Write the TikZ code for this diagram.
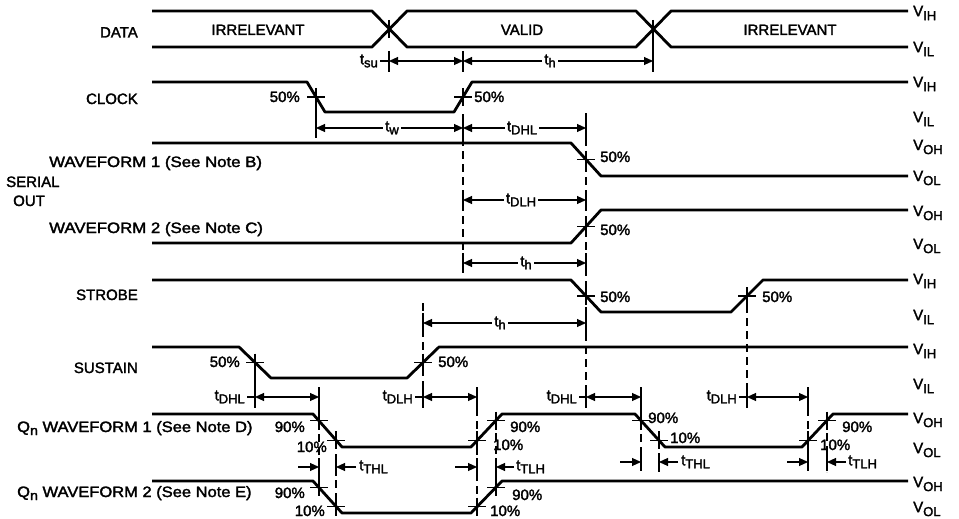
\documentclass[tikz,border=0pt]{standalone}
\usepackage{fontspec}
\setmainfont[FakeBold=2]{Liberation Sans}
\usetikzlibrary{arrows.meta}
\newcommand{\ts}[1]{t\raisebox{-3pt}{\fontsize{13}{14}\selectfont #1}}
\newcommand{\vs}[1]{V\raisebox{-4pt}{\fontsize{13}{14}\selectfont #1}}
\newcommand{\qn}{Q\raisebox{-3pt}{\fontsize{13}{14}\selectfont n}}
\tikzset{
  sig/.style={line width=2.8pt, line join=round},
  dim/.style={line width=1.1pt},
  dimarr/.style={dim, {Triangle[length=9pt,width=8pt]}-{Triangle[length=9pt,width=8pt]}},
  onearr/.style={dim, -{Triangle[length=9pt,width=8pt]}},
  tickl/.style={line width=1.2pt},
  dsh/.style={line width=1.2pt, dash pattern=on 8pt off 5pt},
  lab/.style={font=\fontsize{15}{18}\selectfont, inner sep=0pt},
  tlab/.style={lab, fill=white, inner xsep=2pt, inner ysep=1pt},
  vlab/.style={lab, anchor=west},
  crossmark/.pic={\draw[line width=1.3pt] (-9,0)--(9,0) (0,-9)--(0,9);}
}
\begin{document}
\begin{tikzpicture}[x=1pt,y=-1pt]
\useasboundingbox[fill=white] (0,0) rectangle (959,519);

% ---------- signal names ----------
\node[lab,anchor=base east] (nData) at (138,37.5) {DATA};
\node[lab,anchor=base east] (nClock) at (138,104) {CLOCK};
\node[lab,anchor=base west] (nWf1) at (49,167) {\scalebox{1.12}[1]{WAVEFORM 1 (See Note B)}};
\node[lab,anchor=base west] (nSerial) at (6,187) {SERIAL};
\node[lab,anchor=base west] (nOut) at (13,206) {OUT};
\node[lab,anchor=base west] (nWf2) at (49,233) {\scalebox{1.12}[1]{WAVEFORM 2 (See Note C)}};
\node[lab,anchor=base east] (nStrobe) at (138,300) {STROBE};
\node[lab,anchor=base east] (nSustain) at (138,373) {SUSTAIN};
\node[lab,anchor=base west] (nQ1) at (17,432) {\scalebox{1.1}[1]{\qn\ WAVEFORM 1 (See Note D)}};
\node[lab,anchor=base west] (nQ2) at (17,497) {\scalebox{1.1}[1]{\qn\ WAVEFORM 2 (See Note E)}};

% ---------- level names ----------
\node[vlab] (v1) at (913,13) {\vs{IH}};
\node[vlab] (v2) at (913,49) {\vs{IL}};
\node[vlab] (v3) at (913,84) {\vs{IH}};
\node[vlab] (v4) at (913,119) {\vs{IL}};
\node[vlab] (v5) at (913,147) {\vs{OH}};
\node[vlab] (v6) at (913,178) {\vs{OL}};
\node[vlab] (v7) at (913,213) {\vs{OH}};
\node[vlab] (v8) at (913,246) {\vs{OL}};
\node[vlab] (v9) at (913,281) {\vs{IH}};
\node[vlab] (v10) at (913,317) {\vs{IL}};
\node[vlab] (v11) at (913,351) {\vs{IH}};
\node[vlab] (v12) at (913,386) {\vs{IL}};
\node[vlab] (v13) at (913,420) {\vs{OH}};
\node[vlab] (v14) at (913,450) {\vs{OL}};
\node[vlab] (v15) at (913,484) {\vs{OH}};
\node[vlab] (v16) at (913,509) {\vs{OL}};

% ---------- DATA ----------
\draw[sig] (152,11) -- (372,11) -- (407,47) -- (636,47) -- (671,11) -- (908,11);
\draw[sig] (152,47) -- (372,47) -- (407,11) -- (636,11) -- (671,47) -- (908,47);
\node[lab,anchor=base] (irr1) at (258,35) {IRRELEVANT};
\node[lab,anchor=base] (valid) at (522,35) {VALID};
\node[lab,anchor=base] (irr2) at (790,35) {IRRELEVANT};
\draw[tickl] (389,20) -- (389,38) (389,51) -- (389,72);
\draw[tickl] (653,20) -- (653,72);

% ---------- CLOCK ----------
\draw[sig] (152,82) -- (307,82) -- (325,112) -- (454,112) -- (472,82) -- (908,82);
\pic at (316,97) {crossmark};
\pic at (463,97) {crossmark};
\node[lab,anchor=base east] (p1) at (300,102) {50\%};
\node[lab,anchor=base west] (p2) at (474,102) {50\%};

% ---------- SERIAL OUT ----------
\draw[sig] (152,143) -- (571,143) -- (601,176) -- (908,176);
\pic at (586,159.5) {crossmark};
\node[lab,anchor=base west] (p3) at (600,162) {50\%};
\draw[sig] (152,243) -- (571,243) -- (601,210) -- (908,210);
\pic at (586,226.5) {crossmark};
\node[lab,anchor=base west] (p4) at (600,235) {50\%};

% ---------- STROBE ----------
\draw[sig] (152,280) -- (571,280) -- (601,312) -- (731,312) -- (763,280) -- (908,280);
\pic at (586,296) {crossmark};
\pic at (747,296) {crossmark};
\node[lab,anchor=base west] (p5) at (600,302) {50\%};
\node[lab,anchor=base west] (p6) at (762,302) {50\%};

% ---------- SUSTAIN ----------
\draw[sig] (152,347) -- (239,347) -- (271,378) -- (407,378) -- (439,347) -- (908,347);
\pic at (255,362.5) {crossmark};
\pic at (423,362.5) {crossmark};
\node[lab,anchor=base east] (p7) at (240,367) {50\%};
\node[lab,anchor=base west] (p8) at (438,367) {50\%};

% ---------- Qn WAVEFORM 1 ----------
\draw[sig] (152,414) -- (313,414) -- (342,447) -- (471,447) -- (502,414) -- (635,414) -- (665,447) -- (802,447) -- (833,414) -- (908,414);
\foreach \x/\y in {319/420.6,336/440.4,477/440.4,496/420.6,641/420.6,659/440.4,808/440.4,827/420.6}
  \pic at (\x,\y) {crossmark};
\node[lab,anchor=base east] (q1) at (305,432) {90\%};
\node[lab,anchor=base east] (q2) at (327,452) {10\%};
\node[lab,anchor=base west] (q3) at (510,432) {90\%};
\node[lab,anchor=base west] (q4) at (493,450) {10\%};
\node[lab,anchor=base west] (q5) at (648,423) {90\%};
\node[lab,anchor=base west] (q6) at (670,443) {10\%};
\node[lab,anchor=base west] (q7) at (842,432) {90\%};
\node[lab,anchor=base west] (q8) at (820,450) {10\%};

% ---------- Qn WAVEFORM 2 ----------
\draw[sig] (152,481) -- (313,481) -- (342,513) -- (471,513) -- (502,481) -- (908,481);
\foreach \x/\y in {319/487.4,336/506.6,477/506.6,496/487.4}
  \pic at (\x,\y) {crossmark};
\node[lab,anchor=base east] (r1) at (305,498) {90\%};
\node[lab,anchor=base east] (r2) at (325,516) {10\%};
\node[lab,anchor=base west] (r3) at (512,500) {90\%};
\node[lab,anchor=base west] (r4) at (490,516) {10\%};

% ---------- dashed reference lines ----------
\draw[dsh] (463,138) -- (463,272);
\draw[dsh] (586,138) -- (586,405);
\draw[dsh] (423,303) -- (423,405);
\draw[dsh] (747,305) -- (747,387);
\draw[dsh] (319,408) -- (319,487);
\draw[dsh] (336,441) -- (336,507);
\draw[dsh] (477,408) -- (477,507);
\draw[dsh] (496,420) -- (496,487);
\draw[dsh] (641,408) -- (641,472);
\draw[dsh] (659,441) -- (659,472);
\draw[dsh] (808,408) -- (808,472);
\draw[dsh] (827,420) -- (827,472);

% ---------- ticks ----------
\draw[tickl] (463,51) -- (463,72);
\draw[tickl] (316,106) -- (316,138) (463,114) -- (463,138) (586,113) -- (586,138);
\foreach \x in {463,586} \draw[tickl] (\x,190) -- (\x,210) (\x,253) -- (\x,273);
\draw[tickl] (423,313) -- (423,333) (586,313) -- (586,333);
\draw[tickl] (255,371) -- (255,408);
\foreach \x in {319,423,477,586,641,747,808} \draw[tickl] (\x,387) -- (\x,408);
\foreach \x in {319,336,477,496} \draw[tickl] (\x,458) -- (\x,476);
\foreach \x in {641,659,808,827} \draw[tickl] (\x,453) -- (\x,471);

% ---------- timing dimensions ----------
% row: tsu / th
\node[tlab,anchor=east] (tsu) at (380,61) {\ts{su}};
\draw[dim] (tsu.east) -- (389,61);
\draw[dimarr] (389,61) -- (463,61);
\draw[dimarr] (463,61) -- (653,61);
\node[tlab] (th1) at (550,61) {\ts{h}};
% row: tw / tDHL
\draw[dimarr] (316,128) -- (463,128);
\node[tlab] (tw) at (392,128) {\ts{w}};
\draw[dimarr] (463,128) -- (586,128);
\node[tlab] (tdhl1) at (522,128) {\ts{DHL}};
% row: tDLH
\draw[dimarr] (463,200) -- (586,200);
\node[tlab] (tdlh1) at (521,200) {\ts{DLH}};
% row: th
\draw[dimarr] (463,263) -- (586,263);
\node[tlab] (th2) at (526,263) {\ts{h}};
% row: th (sustain to strobe)
\draw[dimarr] (423,323) -- (586,323);
\node[tlab] (th3) at (500,323) {\ts{h}};
% row: delays to outputs
\node[tlab,anchor=east] (tdhl2) at (247,397) {\ts{DHL}};
\draw[dim] (tdhl2.east) -- (255,397);
\draw[dimarr] (255,397) -- (319,397);
\node[tlab,anchor=east] (tdlh2) at (415,397) {\ts{DLH}};
\draw[dim] (tdlh2.east) -- (423,397);
\draw[dimarr] (423,397) -- (477,397);
\node[tlab,anchor=east] (tdhl3) at (579,397) {\ts{DHL}};
\draw[dim] (tdhl3.east) -- (586,397);
\draw[dimarr] (586,397) -- (641,397);
\node[tlab,anchor=east] (tdlh3) at (739,397) {\ts{DLH}};
\draw[dim] (tdlh3.east) -- (747,397);
\draw[dimarr] (747,397) -- (808,397);
% row: transition times
\draw[onearr] (298,467) -- (319,467);
\draw[onearr] (356,467) -- (336,467);
\node[lab,anchor=west] (tthl1) at (359,467) {\ts{THL}};
\draw[onearr] (455,467) -- (477,467);
\draw[onearr] (514,467) -- (496,467);
\node[lab,anchor=west] (ttlh1) at (516,467) {\ts{TLH}};
\draw[onearr] (620,462) -- (641,462);
\draw[onearr] (678,462) -- (659,462);
\node[lab,anchor=west] (tthl2) at (681,462) {\ts{THL}};
\draw[onearr] (787,462) -- (808,462);
\draw[onearr] (846,462) -- (827,462);
\node[lab,anchor=west] (ttlh2) at (848,462) {\ts{TLH}};
\end{tikzpicture}
\end{document}
